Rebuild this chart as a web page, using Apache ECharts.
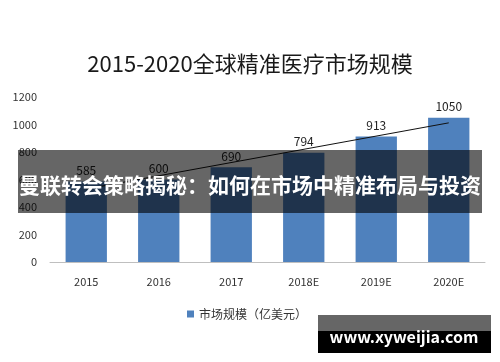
<!DOCTYPE html>
<html>
<head>
<meta charset="utf-8">
<script src="https://cdn.jsdelivr.net/npm/echarts@6/dist/echarts.min.js"></script>
<style>
html,body{margin:0;padding:0;background:#fff;}
#c{width:500px;height:362px;}
</style>
</head>
<body>
<div id="c"></div>
<script>
var categories = ['2015', '2016', '2017', '2018E', '2019E', '2020E'];
var marketSize = [585, 600, 690, 794, 913, 1050];
var trendLine = [531, null, null, null, null, 1012];
var yTicks = [0, 200, 400, 600, 800, 1000, 1200];
var titleText = '2015-2020全球精准医疗市场规模';
var seriesName = '市场规模（亿美元）';
var bannerText = '曼联转会策略揭秘：如何在市场中精准布局与投资';
var watermarkText = 'www.xyweijia.com';

var font = '"Noto Sans CJK SC", "Noto Sans", sans-serif';
var chart = echarts.init(document.getElementById('c'), null, {renderer: 'canvas'});
chart.setOption({
  animation: false,
  backgroundColor: '#fff',
  textStyle: {fontFamily: font},
  title: {
    text: titleText,
    left: 'center',
    top: 48,
    textStyle: {fontSize: 22, fontWeight: 'normal', color: '#1a1a1a', fontFamily: font}
  },
  legend: {
    data: [seriesName],
    left: 182,
    top: 303,
    icon: 'rect',
    itemWidth: 7,
    itemHeight: 7,
    itemGap: 4,
    textStyle: {fontSize: 12, color: '#333', fontFamily: font}
  },
  grid: {left: 50, right: 15, top: 97, bottom: 100},
  xAxis: {
    type: 'category',
    data: categories,
    axisLine: {show: true, lineStyle: {color: '#bfbfbf', width: 1}},
    axisTick: {show: false},
    axisLabel: {fontSize: 11, color: '#333', margin: 14, fontFamily: font}
  },
  yAxis: {
    type: 'value',
    min: yTicks[0],
    max: yTicks[yTicks.length - 1],
    interval: 200,
    axisLine: {show: false},
    axisTick: {show: false},
    splitLine: {show: false},
    axisLabel: {fontSize: 11, color: '#333', margin: 13, fontFamily: font,
      formatter: function (v) { return String(v); }}
  },
  series: [
    {
      name: seriesName,
      type: 'bar',
      data: marketSize,
      barWidth: '57%',
      itemStyle: {color: '#4F81BD'},
      label: {show: true, position: 'top', distance: 5, fontSize: 12, color: '#222', fontFamily: font}
    },
    {
      name: 'trend',
      type: 'line',
      data: trendLine,
      connectNulls: true,
      symbol: 'none',
      lineStyle: {color: '#111', width: 1},
      z: 5
    }
  ],
  graphic: [
    {
      type: 'rect', z: 100,
      shape: {x: 18, y: 150, width: 464, height: 63},
      style: {fill: 'rgba(0,0,0,0.6)'}
    },
    {
      type: 'text', z: 101,
      x: 250, y: 185,
      style: {text: bannerText, fill: '#fff', font: 'bold 21px ' + font, align: 'center', verticalAlign: 'middle'}
    },
    {
      type: 'rect', z: 100,
      shape: {x: 318, y: 315, width: 173, height: 16},
      style: {fill: 'rgba(0,0,0,0.6)'}
    },
    {
      type: 'rect', z: 100,
      shape: {x: 318, y: 331, width: 173, height: 22},
      style: {fill: '#000'}
    },
    {
      type: 'text', z: 101,
      x: 404, y: 337,
      style: {text: watermarkText, fill: '#fff', font: 'bold 16px ' + font, align: 'center', verticalAlign: 'middle'}
    }
  ]
});
</script>
</body>
</html>
